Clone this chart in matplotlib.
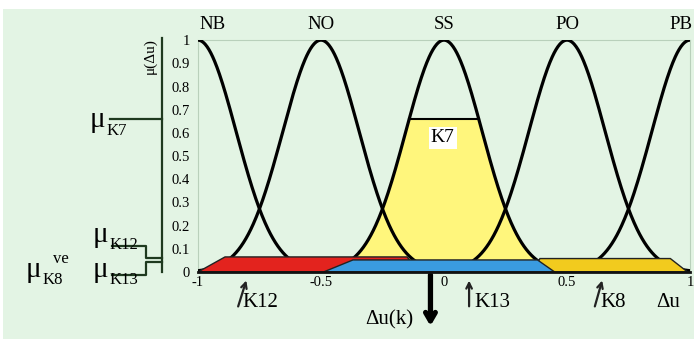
import numpy as np, matplotlib
matplotlib.use("Agg")
import matplotlib.pyplot as plt
from matplotlib.transforms import blended_transform_factory
from matplotlib.patches import Polygon, Rectangle

# membership functions (gaussian)
mf_names = ["NB", "NO", "SS", "PO", "PB"]
mf_centers = [-1.0, -0.5, 0.0, 0.5, 1.0]
mf_label_x = [-0.94, -0.5, 0.0, 0.5, 0.963]
mf_sigma = 0.155
k7_level = 0.66

# output bars: bottom-left x, top-left x, top-right x, bottom-right x, height
bar_names = ["K8", "K12", "K13"]
bar_colors = ["#f2cb1e", "#e3231e", "#3a9be0"]
bar_x0 = [0.36, -1.0, -0.49]
bar_x1 = [0.39, -0.89, -0.37]
bar_x2 = [0.92, -0.15, 0.38]
bar_x3 = [0.99, -0.10, 0.45]
bar_h = [0.058, 0.065, 0.052]

# arrow markers below the axis
arrow_labels = ["K12", "K13", "K8"]
arrow_tip = [-0.80, 0.102, 0.646]
arrow_base = [-0.84, 0.102, 0.61]
label_x = [-0.82, 0.125, 0.634]

xticks = [-1, -0.5, 0, 0.5, 1]
yticks = np.round(np.arange(0, 1.01, 0.1), 1)
ytick_labels = ["0"] + [f"{v:g}" for v in yticks[1:-1]] + ["1"]

bg = "#e3f4e4"
ink = "#1f3a1f"
serif = ["Liberation Serif", "DejaVu Serif"]
plt.rcParams["font.family"] = serif

fig = plt.figure(figsize=(6.97, 3.43), dpi=100, facecolor="white")
fig.patches.append(Rectangle((0.004, 0.012), 0.992, 0.962, transform=fig.transFigure,
                             facecolor=bg, edgecolor="none", zorder=-10))
ax = fig.add_axes([0.284, 0.207, 0.706, 0.676])
ax.set_facecolor(bg)
ax.set_xlim(-1, 1)
ax.set_ylim(0, 1)

x = np.linspace(-1, 1, 801)
for c in mf_centers:
    ax.plot(x, np.exp(-(x - c) ** 2 / (2 * mf_sigma ** 2)), color="black", lw=2.3, zorder=3)

ss = np.exp(-(x - mf_centers[2]) ** 2 / (2 * mf_sigma ** 2))
ax.fill_between(x, 0, np.minimum(ss, k7_level), color="#fff67c", lw=0, zorder=1)
half = mf_sigma * np.sqrt(-2 * np.log(k7_level))
ax.plot([-half, half], [k7_level, k7_level], color="black", lw=1.5, zorder=3)
ax.text(-0.005, 0.578, "K7", ha="center", va="center", fontsize=14, zorder=6,
        bbox=dict(facecolor="white", edgecolor="none", pad=1.5))

for i in range(len(bar_names)):
    pts = [(bar_x0[i], 0), (bar_x1[i], bar_h[i]), (bar_x2[i], bar_h[i]), (bar_x3[i], 0)]
    ax.add_patch(Polygon(pts, closed=True, facecolor=bar_colors[i], edgecolor="#222222",
                         lw=1.0, zorder=4 + (i == 2)))

for n, lx in zip(mf_names, mf_label_x):
    ax.text(lx, 1.03, n, ha="center", va="bottom", fontsize=13.5, clip_on=False)

ax.set_xticks(xticks)
ax.set_xticklabels([f"{v:g}" for v in xticks], fontsize=10.5)
ax.set_yticks(yticks)
ax.set_yticklabels(ytick_labels, fontsize=10.5)
ax.tick_params(length=0, pad=6)
ax.tick_params(axis="x", pad=3)
for s in ["top", "right", "left"]:
    ax.spines[s].set_color("#b9d0bb")
    ax.spines[s].set_linewidth(0.8)
ax.spines["bottom"].set_color("#111111")
ax.spines["bottom"].set_linewidth(2)
ax.spines["bottom"].set_zorder(7)

# arrows under axis
for lab, tip, base, lx in zip(arrow_labels, arrow_tip, arrow_base, label_x):
    ax.annotate("", xy=(tip, -0.025), xytext=(base, -0.16),
                arrowprops=dict(arrowstyle="->", lw=1.6, color="#222222"),
                annotation_clip=False)
    ax.text(lx, -0.13, lab, ha="left", va="center", fontsize=15, clip_on=False)
ax.text(0.91, -0.13, "Δu", ha="center", va="center", fontsize=15, clip_on=False)

ax.annotate("", xy=(-0.055, -0.245), xytext=(-0.055, 0.0),
            arrowprops=dict(arrowstyle="->, head_length=0.6, head_width=0.35", lw=3.8,
                            color="black"), annotation_clip=False)
ax.text(-0.126, -0.205, "Δu(k)", ha="right", va="center", fontsize=15, clip_on=False)

# left-side bracket annotations
tr = blended_transform_factory(fig.transFigure, ax.transData)
fx = lambda px: px / 697
ax.plot([fx(162), fx(162)], [0.0, 1.01], transform=tr, color=ink, lw=1.6, clip_on=False)
ax.plot([fx(110), fx(162)], [k7_level, k7_level], transform=tr, color=ink, lw=1.6, clip_on=False)
ax.plot([fx(112), fx(146), fx(146), fx(162)], [0.113, 0.113, 0.06, 0.06], transform=tr,
        color=ink, lw=1.6, clip_on=False)
ax.plot([fx(112), fx(146), fx(146), fx(162)], [-0.013, -0.013, 0.043, 0.043], transform=tr,
        color=ink, lw=1.6, clip_on=False)
ax.text(fx(150), 0.93, "μ(Δu)", transform=tr, rotation=90, ha="center", va="center", fontsize=11)

def mu(px, y, sub, sup=None):
    ax.text(fx(px), y, "μ", transform=tr, ha="center", va="center", fontsize=21)
    ax.text(fx(px + 10), y - 0.045, sub, transform=tr, ha="left", va="center", fontsize=12)
    if sup:
        ax.text(fx(px + 20), y + 0.045, sup, transform=tr, ha="left", va="center", fontsize=12)

mu(97, 0.655, "K7")
mu(100, 0.16, "K12")
mu(100, 0.01, "K13")
mu(33, 0.01, "K8", "ve")

fig.savefig("out.png", dpi=100, facecolor=fig.get_facecolor())
